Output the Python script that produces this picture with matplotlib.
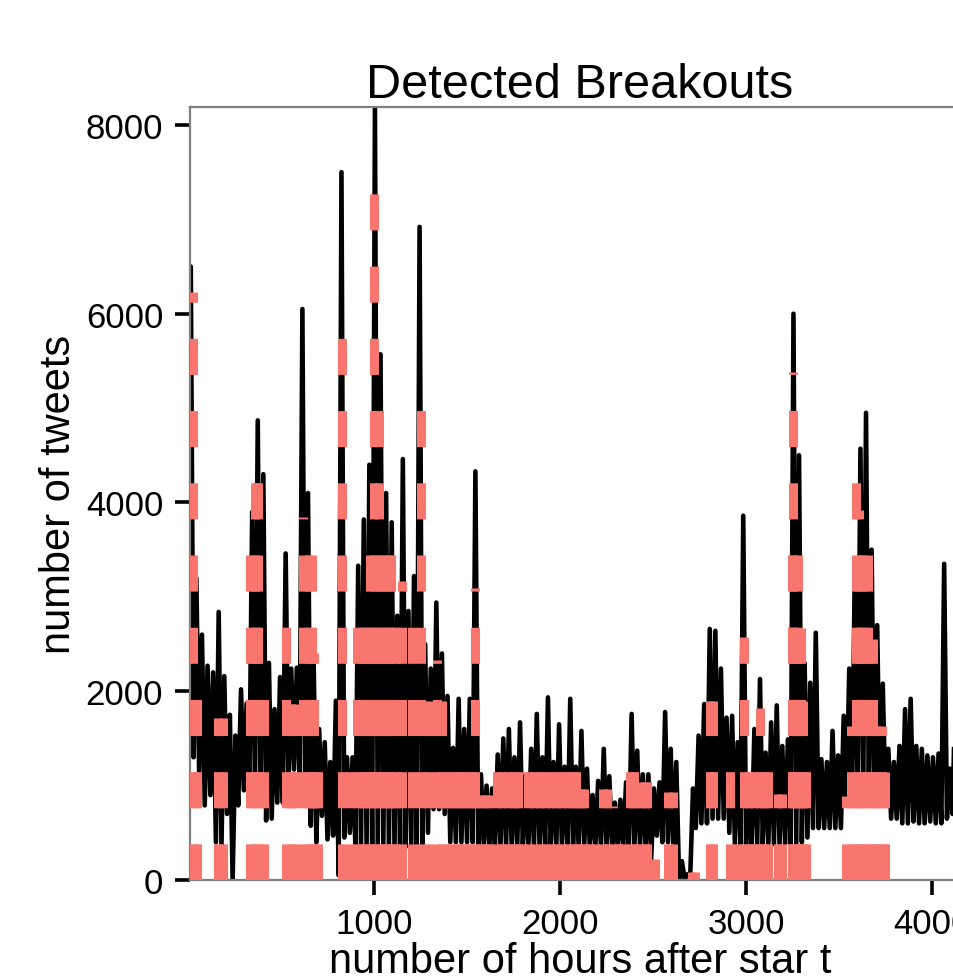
"""Hourly tweet counts with the detected breakouts drawn as dashed red segments."""

import numpy as np
import matplotlib
matplotlib.use("Agg")
import matplotlib.pyplot as plt  # noqa: E402

plt.rcParams["font.family"] = ["Liberation Sans", "DejaVu Sans"]

# tweet counts, one pair per 30-hour block:
# block_low at the block start, block_high half way through it
block_high = [
    6500, 3200, 2600, 2270, 2200, 2840, 2160, 1750, 1530, 2020,
    1870, 3900, 4870, 4300, 2300, 1810, 2150, 3460, 2240, 2250,
    6050, 4100, 2380, 1600, 1460, 1250, 1900, 7500, 1300, 1300,
    3330, 3820, 4400, 8190, 5570, 4100, 3790, 2800, 4460, 2850,
    3220, 6920, 2500, 2240, 2940, 2400, 1950, 1400, 1920, 1600,
    1920, 4330, 1120, 1000, 970, 1330, 1500, 1600, 1300, 1670,
    1100, 1390, 1760, 1300, 1935, 1250, 1650, 1200, 1920, 1200,
    1580, 1180, 900, 1050, 1390, 1100, 820, 850, 1035, 1760,
    1370, 1120, 1120, 970, 1035, 1780, 1390, 1250, 200, 60,
    970, 1530, 1865, 2660, 2640, 2240, 1720, 1740, 1460, 3860,
    1000, 1600, 2130, 1350, 1670, 1850, 1420, 1490, 6000, 4500,
    2300, 2090, 2620, 1280, 1250, 1580, 1320, 1740, 2240, 3365,
    4570, 4950, 3500, 2700, 2080, 1390, 1250, 1420, 1810, 1920,
    1420, 1390, 1320, 1300, 1340, 3350, 1180, 1990, 1500,
]
block_low = [
    1500, 1300, 1100, 790, 900, 400, 360, 700, 0, 790,
    950, 1000, 900, 900, 630, 650, 820, 820, 1030, 1170,
    1070, 800, 575, 400, 680, 430, 470, 50, 450, 500,
    350, 350, 350, 350, 350, 350, 350, 350, 350, 350,
    350, 350, 350, 500, 750, 750, 700, 400, 400, 400,
    400, 400, 350, 350, 350, 350, 350, 350, 350, 350,
    350, 350, 350, 350, 350, 350, 350, 350, 350, 350,
    350, 350, 350, 350, 350, 350, 350, 350, 350, 350,
    350, 350, 350, 220, 470, 400, 400, 300, 10, 10,
    40, 550, 600, 600, 650, 650, 650, 500, 380, 380,
    380, 380, 380, 380, 380, 380, 380, 380, 380, 380,
    400, 450, 550, 550, 550, 550, 550, 550, 820, 850,
    900, 900, 900, 850, 800, 800, 650, 650, 600, 600,
    620, 600, 600, 620, 600, 600, 650, 700, 700,
]
BLOCK_HOURS = 30

# breakout positions (hour) and how far up each dashed segment reaches
breakout_hours = [
    25, 50, 160, 190, 335, 360, 375, 410,
    525, 555, 575, 620, 650, 665, 680, 700,
    830, 871, 906, 935, 955, 980, 1000, 1025, 1050, 1075, 1090, 1120,
    1153, 1205, 1250, 1290, 1340, 1365, 1395, 1420, 1445, 1470, 1495,
    1520, 1543, 1570, 1595, 1620, 1660, 1690, 1720, 1750, 1775, 1800,
    1830, 1860, 1890, 1920, 1950, 1980, 2010, 2040, 2070, 2085,
    2115, 2130, 2160, 2190, 2230, 2255, 2285, 2310, 2335, 2375, 2395,
    2425, 2455, 2470, 2510, 2583, 2610, 2712, 2725,
    2805, 2825, 2915, 2950, 2990, 3015, 3045, 3073, 3095, 3120,
    3170, 3195, 3245, 3255, 3277, 3296, 3306, 3320,
    3537, 3565, 3590, 3605, 3630, 3655, 3680, 3700, 3730, 3745,
]
breakout_tops = [
    6230, 2000, 1720, 1720, 3500, 4300, 4300, 2000,
    2800, 1870, 1870, 3850, 3500, 3500, 2400, 1300,
    5800, 1300, 2800, 2800, 2800, 3450, 7400, 5000, 3450, 3450, 3450, 2800,
    3170, 2700, 5000, 1900, 2330, 1900, 1300, 1300, 1300, 1300, 1300,
    1300, 3090, 900, 900, 900, 1300, 1300, 1300, 1300, 1300, 600,
    1300, 1300, 1300, 1300, 1300, 1300, 1300, 1300, 1300, 1200,
    965, 965, 600, 600, 965, 965, 787, 600, 600, 1200, 1200,
    1035, 1035, 1035, 220, 930, 930, 80, 80,
    1900, 1900, 1200, 600, 2574, 1200, 1200, 1819, 1200, 1200,
    911, 911, 3440, 5380, 3440, 2670, 1900, 1200,
    894, 1635, 4300, 3920, 3440, 3440, 2550, 1635, 1635, 1145,
]

X_TICKS = [1000, 2000, 3000, 4000]
Y_TICKS = [0, 2000, 4000, 6000, 8000]


def main():
    starts = BLOCK_HOURS * np.arange(len(block_high))
    # low at the block start, high half way: gives the dense daily band
    hours = np.column_stack([starts, starts + BLOCK_HOURS / 2]).ravel()
    tweets = np.column_stack([block_low, block_high]).ravel()

    fig = plt.figure(figsize=(9.54, 9.79), dpi=100)
    # panel runs slightly past the right edge, as in the original crop
    ax = fig.add_axes([190 / 954, 1 - 881 / 979, 780 / 954, 773 / 979])

    ax.plot(hours, tweets, color="black", lw=3.3, zorder=2)
    ax.vlines(breakout_hours, 0, breakout_tops, colors="#F8766D",
              linewidth=6.5, linestyles=(0, (4, 4)), zorder=3)

    ax.set_xlim(10.75, 4204)
    ax.set_ylim(0, 8190)
    ax.set_xticks(X_TICKS)
    ax.set_yticks(Y_TICKS)
    ax.tick_params(direction="out", length=10.8, width=2.6, color="black",
                   labelsize=25, labelcolor="black", pad=8.5)
    for side in ("left", "top", "bottom"):
        ax.spines[side].set_color("#7f7f7f")
        ax.spines[side].set_linewidth(1.6)
    ax.spines["right"].set_visible(False)

    ax.set_title("Detected Breakouts", fontsize=35, pad=1.5)
    ax.set_xlabel("number of hours after star t", fontsize=30, labelpad=1)
    ax.set_ylabel("number of tweets", fontsize=30, labelpad=5)

    fig.savefig("out.png", dpi=100)


if __name__ == "__main__":
    main()
